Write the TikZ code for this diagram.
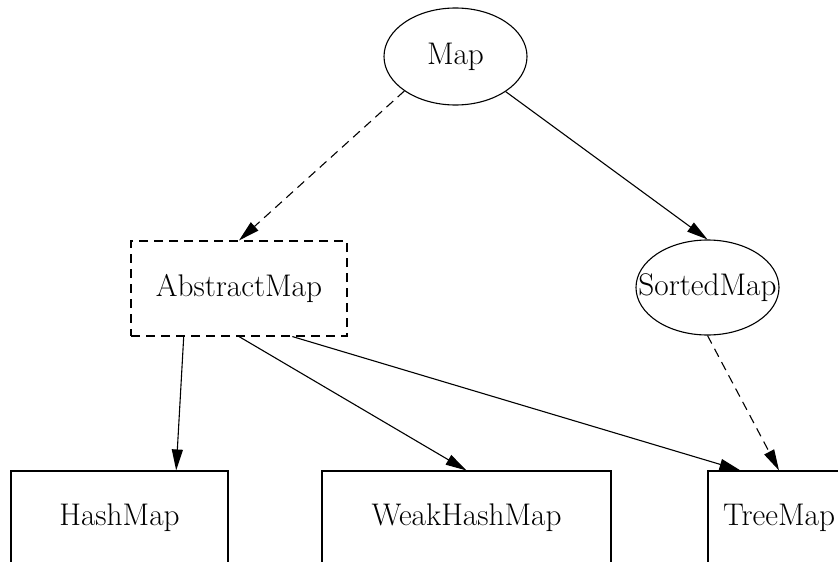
\documentclass[tikz,border=0pt]{standalone}
\usetikzlibrary{shapes.geometric,arrows.meta}
\begin{document}
\begin{tikzpicture}[x=1pt,y=-1pt,
  every node/.style={font=\fontsize{31.3}{37}\selectfont, inner sep=0pt, draw, line width=1.1pt},
  ell/.style={ellipse},
  boxnode/.style={rectangle},
  conn/.style={line width=1.1pt, -{Triangle[length=21pt,width=11pt]}},
  dashconn/.style={conn, dash pattern=on 9pt off 6pt},
]
\clip (0,0) rectangle (838,562);
\useasboundingbox (0,0) rectangle (838,562);
\node[ell, minimum width=143pt, minimum height=97pt] (Map) at (455.5,56.5) {Map};
\node[boxnode, dash pattern=on 9pt off 6pt, minimum width=216pt, minimum height=95pt] (AbstractMap) at (239,288.5) {AbstractMap};
\node[ell, inner xsep=-22pt, minimum width=143pt, minimum height=95pt] (SortedMap) at (707.5,287.5) {SortedMap};
\node[boxnode, minimum width=217pt, minimum height=94pt] (HashMap) at (119.5,518) {HashMap};
\node[boxnode, minimum width=289pt, minimum height=94pt] (WeakHashMap) at (466.5,518) {WeakHashMap};
\node[boxnode, minimum width=142pt, minimum height=94pt] (TreeMap) at (779,518) {TreeMap};
\draw[dashconn] (Map.214.6) -- (AbstractMap.north);
\draw[conn] (Map.325) -- (SortedMap.north);
\draw[conn] (AbstractMap.221.3) -- (HashMap.40.8);
\draw[conn] (AbstractMap.south) -- (WeakHashMap.north);
\draw[conn] (AbstractMap.318.1) -- (TreeMap.129.7);
\draw[dashconn] (SortedMap.south) -- (TreeMap.north);
\end{tikzpicture}
\end{document}
